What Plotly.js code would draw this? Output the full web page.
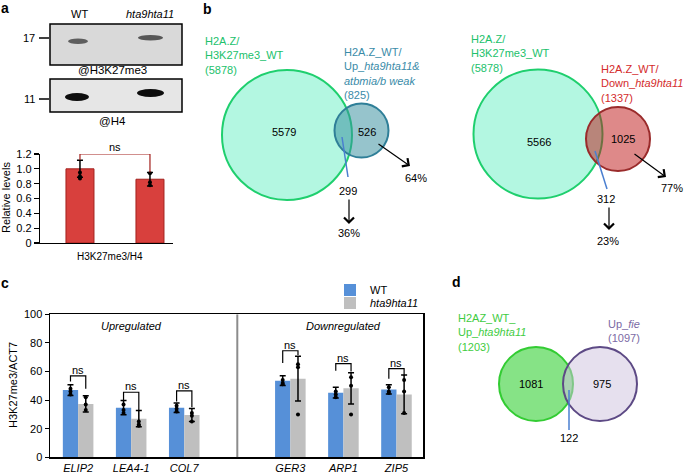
<!DOCTYPE html>
<html><head><meta charset="utf-8">
<script src="https://cdn.plot.ly/plotly-3.0.1.min.js"></script>
<style>html,body{margin:0;padding:0;background:#fff}#chart{width:685px;height:473px}</style>
</head><body><div id="chart"></div>
<script>
// ================= DATA =================
// Panel a: western blot quantification
const aSamples = ['WT', 'hta9hta11'];
const aValues = [1.0, 0.86];
const aErrors = [0.115, 0.09];
const aDots = [[0.95, 0.90, 0.87], [0.94, 0.82, 0.78]];
const aTickVals = [0, 0.2, 0.4, 0.6, 0.8, 1.0, 1.2];
const aTickText = ['0', '0.2', '0.4', '0.6', '0.8', '1.0', '1.2'];
const aBlotLabels = ['@H3K27me3', '@H4'];
const aSizeMarkers = ['17', '11'];
const aYTitle = 'Relative levels';
const aXTitle = 'H3K27me3/H4';

// Panel b: Venn diagrams
const b1Counts = [5579, 299, 526];      // only A, overlap, only B
const b1Totals = [5878, 825];
const b2Counts = [5566, 312, 1025];
const b2Totals = [5878, 1337];

// Panel c: ChIP-qPCR
const genes = ['ELIP2', 'LEA4-1', 'COL7', 'GER3', 'ARP1', 'ZIP5'];
const geneGroup = [0, 0, 0, 1, 1, 1];
const groupNames = ['Upregulated', 'Downregulated'];
const wtValues = [47, 34.7, 34.7, 53.6, 45.2, 47.5];
const wtErrors = [3.8, 5.0, 3.3, 3.4, 3.7, 3.2];
const mutValues = [37.3, 27, 29.6, 55, 48.2, 44];
const mutErrors = [5.7, 5.7, 4.5, 15.6, 11, 13.6];
const wtDots = [[48, 46, 44], [37, 33, 31], [36, 34, 32], [54, 52, 51], [46, 44, 42], [49, 46, 45]];
const mutDots = [[42, 37, 33], [25, 23, 22], [31, 29, 25], [65, 63, 30], [56, 50, 30], [54, 46, 31]];
const nsTop = [57, 45.5, 46.5, 74.5, 65.5, 62];
const nsLeftEnd = [53, 40, 39, 66, 60.5, 55];
const nsRightEnd = [48, 33, 35, 71.5, 60, 57];
const cTickVals = [0, 20, 40, 60, 80, 100];
const cYTitle = 'H3K27me3/ACT7';

// Panel d: Venn
const dCounts = [1081, 122, 975];
const dTotals = [1203, 1097];

// ================= LAYOUT HELPERS =================
const W = 685, H = 473;
const X = p => p / W;
const Y = p => 1 - p / H;
const FONT = 'Liberation Sans, Arial, Helvetica, sans-serif';
const pct = (n, t) => Math.round(n / t * 100) + '%';

const shapes = [];
const annotations = [];
function ann(text, x, y, o) {
  annotations.push(Object.assign({text: text, x: X(x), y: Y(y), xref: 'paper', yref: 'paper',
    xanchor: 'center', yanchor: 'middle',
    showarrow: false, font: {size: 11, color: '#000', family: FONT}}, o || {}));
}
function circle(cx, cy, r, fill, line) {
  shapes.push({type: 'circle', xref: 'paper', yref: 'paper',
    x0: X(cx - r), x1: X(cx + r), y0: Y(cy + r), y1: Y(cy - r),
    fillcolor: fill, line: {color: line, width: 2}});
}
function rect(x0, y0, x1, y1, fill, line, lw) {
  shapes.push({type: 'rect', xref: 'paper', yref: 'paper', x0: X(x0), x1: X(x1), y0: Y(y1), y1: Y(y0),
    fillcolor: fill, line: {color: line, width: lw}});
}
function ellipse(x0, y0, x1, y1, fill) {
  shapes.push({type: 'circle', xref: 'paper', yref: 'paper', x0: X(x0), x1: X(x1), y0: Y(y1), y1: Y(y0),
    fillcolor: fill, line: {width: 0}});
}
function seg(x0, y0, x1, y1, color, w) {
  shapes.push({type: 'line', xref: 'paper', yref: 'paper', x0: X(x0), x1: X(x1), y0: Y(y0), y1: Y(y1),
    line: {color: color, width: w}});
}
function arrow(tx, ty, hx, hy) {
  annotations.push({text: '', x: X(hx), y: Y(hy), xref: 'paper', yref: 'paper', showarrow: true,
    ax: tx - hx, ay: ty - hy, arrowhead: 4, arrowsize: 1.6, arrowwidth: 1.2, arrowcolor: '#000'});
}

// ================= PANEL LETTERS =================
ann('<b>a</b>', 5, 8, {font: {size: 14, family: FONT}});
ann('<b>b</b>', 207, 9, {font: {size: 14, family: FONT}});
ann('<b>c</b>', 5, 283, {font: {size: 14, family: FONT}});
ann('<b>d</b>', 456, 282, {font: {size: 14, family: FONT}});

// ================= PANEL a: blots =================
ann(aSamples[0], 79, 14);
ann('<i>' + aSamples[1] + '</i>', 150, 14);
rect(50, 24, 182, 65, '#d9d9d9', '#000', 1.5);
ellipse(68, 38.5, 88, 44, '#5e5e5e');
ellipse(138, 35, 163, 40.5, '#575757');
rect(50, 79, 182, 112, '#e6e6e6', '#000', 1.5);
ellipse(65, 93, 89, 101, '#0d0d0d');
ellipse(137, 89, 164, 97, '#0d0d0d');
seg(39, 38, 49, 38, '#000', 1.5);
seg(39, 99, 49, 99, '#000', 1.5);
ann(aSizeMarkers[0], 37, 38, {xanchor: 'right'});
ann(aSizeMarkers[1], 37, 99, {xanchor: 'right'});
ann(aBlotLabels[0], 112, 70, {font: {size: 11.5, family: FONT, color: '#000'}});
ann(aBlotLabels[1], 112, 121, {font: {size: 11.5, family: FONT, color: '#000'}});
ann(aYTitle, 6, 198, {textangle: -90});
ann(aXTitle, 110, 256, {font: {size: 10, family: FONT, color: '#000'}});
annotations.push({text: 'ns', x: 0.5, y: 1.2, xref: 'x', yref: 'y', xanchor: 'center', yanchor: 'bottom', showarrow: false,
  yshift: -1, font: {size: 11, family: FONT, color: '#000'}});

// ================= PANEL b: Venns =================
circle(287, 135, 65, '#b3f7e1', '#1fcf6e');
circle(361.5, 130.5, 27, 'rgba(57,143,158,0.53)', '#2f7f98');
ann('H2A.Z/<br>H3K27me3_WT<br>(' + b1Totals[0] + ')', 203, 55.5, {xanchor: 'left', align: 'left', font: {size: 11, family: FONT, color: '#21c16b'}});
ann('H2A.Z_WT/<br>Up_<i>hta9hta11&amp;</i><br><i>atbmia/b weak</i><br>(' + b1Totals[1] + ')', 342, 73.5,
  {xanchor: 'left', align: 'left', font: {size: 11, family: FONT, color: '#3a8ba8'}});
ann(String(b1Counts[0]), 284, 132);
ann(String(b1Counts[2]), 367, 132);
seg(342, 137, 348, 177, '#4a7fd0', 1.5);
ann(String(b1Counts[1]), 348, 191);
arrow(349, 198, 349, 224);
ann(pct(b1Counts[1], b1Totals[1]), 349, 233);
arrow(377, 143, 410, 166);
ann(pct(b1Counts[2], b1Totals[1]), 416, 178);

circle(538, 134, 64.5, '#b3f7e1', '#1fcf6e');
circle(618, 139, 32, 'rgba(190,20,20,0.5)', '#9a2b2b');
ann('H2A.Z/<br>H3K27me3_WT<br>(' + b2Totals[0] + ')', 469, 54, {xanchor: 'left', align: 'left', font: {size: 11, family: FONT, color: '#21c16b'}});
ann('H2A.Z_WT/<br>Down_<i>hta9hta11</i><br>(' + b2Totals[1] + ')', 599, 83, {xanchor: 'left', align: 'left', font: {size: 11, family: FONT, color: '#d42b2b'}});
ann(String(b2Counts[0]), 539, 142);
ann(String(b2Counts[2]), 623, 139);
seg(595, 151, 607, 189, '#4a7fd0', 1.5);
ann(String(b2Counts[1]), 606, 199);
arrow(609, 206, 609, 230);
ann(pct(b2Counts[1], b2Totals[1]), 608, 241);
arrow(633, 153, 666, 177);
ann(pct(b2Counts[2], b2Totals[1]), 672, 188);

// ================= PANEL d: Venn =================
circle(536, 384, 37, '#86e386', '#33cc33');
circle(600, 384, 37, 'rgba(205,194,221,0.5)', '#5d4a85');
ann('H2AZ_WT_<br>Up_<i>hta9hta11</i><br>(' + dTotals[0] + ')', 456, 332, {xanchor: 'left', align: 'left', font: {size: 11, family: FONT, color: '#3fcc3f'}});
ann('Up_<i>fie</i><br>(' + dTotals[1] + ')', 606, 331, {xanchor: 'left', align: 'left', font: {size: 11, family: FONT, color: '#7b6aa5'}});
ann(String(dCounts[0]), 531, 384);
ann(String(dCounts[2]), 602, 384);
seg(569, 390, 569, 430, '#4a7fd0', 1.5);
ann(String(dCounts[1]), 569, 438);

// ================= PANEL c =================
const pos = genes.map((g, i) => i + geneGroup[i]);
const half = 0.144;
groupNames.forEach((g, k) => {
  const idx = geneGroup.map((v, i) => v === k ? i : -1).filter(i => i >= 0);
  const center = (pos[idx[0]] + pos[idx[idx.length - 1]]) / 2;
  annotations.push({text: '<i>' + g + '</i>', x: center, xref: 'x2', y: Y(326), yref: 'paper', xanchor: 'center', yanchor: 'middle',
    showarrow: false, font: {size: 11, family: FONT, color: '#000'}});
});
const divider = (pos[2] + pos[3]) / 2;
shapes.push({type: 'line', xref: 'x2', yref: 'y2', x0: divider, x1: divider, y0: 0, y1: 100,
  line: {color: '#8c8c8c', width: 2}});
genes.forEach((g, i) => {
  annotations.push({text: 'ns', x: pos[i], y: nsTop[i], xref: 'x2', yref: 'y2', xanchor: 'center', yanchor: 'bottom', yshift: -2,
    showarrow: false, font: {size: 11, family: FONT, color: '#000'}});
});
ann(cYTitle, 13, 385, {textangle: -90});

const bx = [], by = [];
genes.forEach((g, i) => {
  bx.push(pos[i] - half, pos[i] - half, pos[i] + half, pos[i] + half, null);
  by.push(nsLeftEnd[i], nsTop[i], nsTop[i], nsRightEnd[i], null);
});
const dotX = (arr, sign) => arr.flatMap((d, i) => d.map(() => pos[i] + sign * half));

const traces = [
  // panel a
  {type: 'bar', x: aSamples.map((s, i) => i), y: aValues, width: 0.4, xaxis: 'x', yaxis: 'y', showlegend: false,
   marker: {color: '#d8403d', line: {color: '#a3201d', width: 1}},
   error_y: {type: 'data', array: aErrors, visible: true, color: '#000', thickness: 1.5, width: 3}},
  {type: 'scatter', mode: 'markers', x: aDots.flatMap((d, i) => d.map(() => i)), y: aDots.flat(), xaxis: 'x', yaxis: 'y',
   showlegend: false, marker: {color: '#000', size: 4}},
  {type: 'scatter', mode: 'lines', x: [0, 0, 1, 1], y: [aValues[0] + aErrors[0] + 0.005, 1.2, 1.2, aValues[1] + aErrors[1] + 0.005],
   xaxis: 'x', yaxis: 'y', cliponaxis: false, showlegend: false, line: {color: '#a3201d', width: 1.2}},
  // panel c
  {type: 'bar', name: 'WT', x: pos, y: wtValues, xaxis: 'x2', yaxis: 'y2', legend: 'legend',
   marker: {color: '#5690d8'},
   error_y: {type: 'data', array: wtErrors, visible: true, color: '#000', thickness: 1.5, width: 3}},
  {type: 'bar', name: '<i>hta9hta11</i>', x: pos, y: mutValues, xaxis: 'x2', yaxis: 'y2', legend: 'legend2',
   marker: {color: '#bfbfbf'},
   error_y: {type: 'data', array: mutErrors, visible: true, color: '#000', thickness: 1.5, width: 3}},
  {type: 'scatter', mode: 'markers', x: dotX(wtDots, -1).concat(dotX(mutDots, 1)), y: wtDots.flat().concat(mutDots.flat()),
   xaxis: 'x2', yaxis: 'y2', showlegend: false, marker: {color: '#000', size: 4}},
  {type: 'scatter', mode: 'lines', x: bx, y: by, xaxis: 'x2', yaxis: 'y2', cliponaxis: false, showlegend: false,
   line: {color: '#000', width: 1.2}}
];

const layout = {
  width: W, height: H, margin: {l: 0, r: 0, t: 0, b: 0},
  paper_bgcolor: '#fff', plot_bgcolor: 'rgba(0,0,0,0)',
  font: {family: FONT, size: 11, color: '#000'},
  barmode: 'group', bargap: 0.424, bargroupgap: 0,
  xaxis: {domain: [X(40), X(173)], range: [-0.571, 1.329], anchor: 'y', showline: true, linecolor: '#000', linewidth: 1.2,
          showticklabels: false, ticks: '', showgrid: false, zeroline: false, fixedrange: true},
  yaxis: {domain: [Y(243), Y(154)], range: [0, 1.2], anchor: 'x', tickvals: aTickVals, ticktext: aTickText,
          ticks: 'outside', ticklen: 5, tickwidth: 1.2, tickcolor: '#000', showline: true, linecolor: '#000', linewidth: 1.2,
          showgrid: false, zeroline: false, tickfont: {size: 11}},
  xaxis2: {domain: [X(50), X(423)], range: [-0.53, 6.5], anchor: 'y2', tickvals: pos, ticktext: genes.map(g => '<i>' + g + '</i>'),
           showline: true, mirror: true, linecolor: '#000', linewidth: 1.5, ticks: '', showgrid: false, zeroline: false,
           tickfont: {size: 11}},
  yaxis2: {domain: [Y(457.3), Y(314.3)], range: [0, 100], anchor: 'x2', tickvals: cTickVals, ticks: 'outside', ticklen: 4,
           tickcolor: '#000', tickwidth: 1.2, showline: true, mirror: true, linecolor: '#000', linewidth: 1.5,
           showgrid: false, zeroline: false, tickfont: {size: 11}},
  legend: {x: X(330), y: Y(290), xanchor: 'left', yanchor: 'middle', bgcolor: 'rgba(0,0,0,0)', font: {size: 11}},
  legend2: {x: X(330), y: Y(303), xanchor: 'left', yanchor: 'middle', bgcolor: 'rgba(0,0,0,0)', font: {size: 11}},
  shapes: shapes, annotations: annotations
};

Plotly.newPlot('chart', traces, layout, {staticPlot: true, displayModeBar: false});
</script></body></html>
